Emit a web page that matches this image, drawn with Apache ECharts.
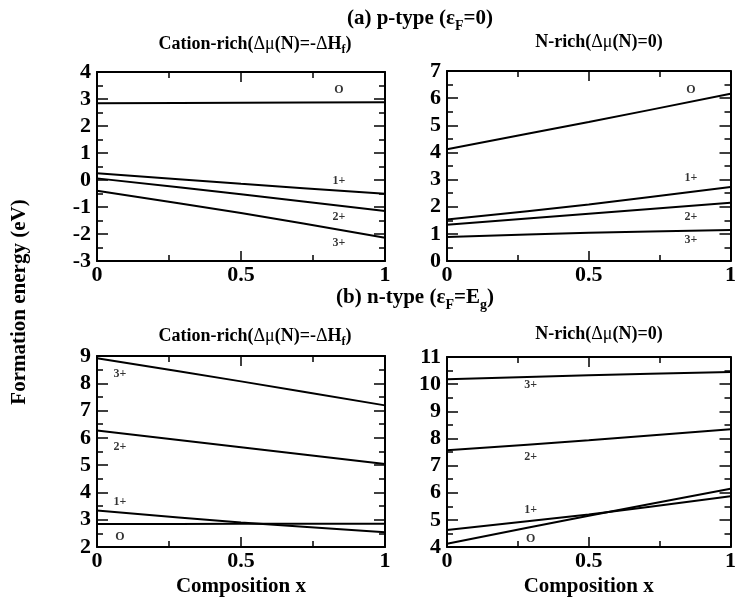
<!DOCTYPE html>
<html>
<head>
<meta charset="utf-8">
<script src="https://cdn.jsdelivr.net/npm/echarts@6/dist/echarts.min.js"></script>
<style>
  html, body { margin: 0; padding: 0; background: #fff; }
  #chart { width: 739px; height: 600px; }
</style>
</head>
<body>
<div id="chart"></div>
<script>
// composition x
var xs = [0, 0.5, 1];
var chargeNames = ['O', '1+', '2+', '3+'];

// (a) p-type, cation-rich
var aO = [2.84, 2.86, 2.88];
var a1 = [0.25, -0.14, -0.51];
var a2 = [0.06, -0.53, -1.15];
var a3 = [-0.40, -1.22, -2.14];
// (a) p-type, N-rich
var bO = [4.12, 5.12, 6.16];
var b1 = [1.53, 2.08, 2.73];
var b2 = [1.34, 1.74, 2.15];
var b3 = [0.88, 1.04, 1.14];
// (b) n-type, cation-rich
var cO = [2.84, 2.85, 2.85];
var c1 = [3.34, 2.90, 2.54];
var c2 = [6.27, 5.66, 5.04];
var c3 = [8.92, 8.07, 7.19];
// (b) n-type, N-rich
var dO = [4.12, 5.15, 6.15];
var d1 = [4.63, 5.20, 5.87];
var d2 = [7.56, 7.93, 8.34];
var d3 = [10.18, 10.33, 10.45];

// y ranges per panel
var yMin = [-3, 0, 2, 4];
var yMax = [4, 7, 9, 11];

// label anchors [x, y] for O, 1+, 2+, 3+
var labA = [[0.84, 3.32], [0.84, -0.05], [0.84, -1.37], [0.84, -2.33]];
var labB = [[0.86, 6.29], [0.86, 3.05], [0.86, 1.62], [0.86, 0.77]];
var labC = [[0.08, 2.37], [0.08, 3.65], [0.08, 5.67], [0.08, 8.33]];
var labD = [[0.295, 4.30], [0.295, 5.35], [0.295, 7.31], [0.295, 9.98]];

var panels = [[aO, a1, a2, a3], [bO, b1, b2, b3], [cO, c1, c2, c3], [dO, d1, d2, d3]];
var labels = [labA, labB, labC, labD];

var FONT = '"Liberation Serif", "DejaVu Serif", serif';

var grids = [
  { left: 97, top: 72, width: 288, height: 189 },
  { left: 447, top: 71, width: 287, height: 190 },
  { left: 97, top: 356, width: 288, height: 191 },
  { left: 447, top: 357, width: 287, height: 190 }
];

function tickCfg(len) {
  return { inside: true, length: len, lineStyle: { color: '#000', width: 1.5 } };
}
function minorCfg() {
  return { show: true, splitNumber: 2, length: 6, lineStyle: { color: '#000', width: 1.5 } };
}

var xAxes = [], yAxes = [], series = [];
for (var i = 0; i < 4; i++) {
  var axisLine = { onZero: false, lineStyle: { color: '#000', width: 2 } };
  xAxes.push({
    type: 'value', gridIndex: i, min: 0, max: 1, interval: 0.5, position: 'bottom',
    axisLine: axisLine, axisTick: tickCfg(10), minorTick: minorCfg(),
    splitLine: { show: false },
    axisLabel: { color: '#000', fontFamily: FONT, fontWeight: 'bold', fontSize: 22, margin: 3 },
    name: i >= 2 ? 'Composition x' : '',
    nameLocation: 'middle', nameGap: 29,
    nameTextStyle: { color: '#000', fontFamily: FONT, fontWeight: 'bold', fontSize: 21 }
  });
  xAxes.push({
    type: 'value', gridIndex: i, min: 0, max: 1, interval: 0.5, position: 'top',
    axisLine: axisLine, axisTick: tickCfg(10), minorTick: minorCfg(),
    splitLine: { show: false },
    axisLabel: { show: false }
  });
  yAxes.push({
    type: 'value', gridIndex: i, min: yMin[i], max: yMax[i], interval: 1, position: 'left',
    axisLine: axisLine, axisTick: tickCfg(11), minorTick: minorCfg(),
    splitLine: { show: false },
    axisLabel: { color: '#000', fontFamily: FONT, fontWeight: 'bold', fontSize: 22, margin: 6 }
  });
  yAxes.push({
    type: 'value', gridIndex: i, min: yMin[i], max: yMax[i], interval: 1, position: 'right',
    axisLine: axisLine, axisTick: tickCfg(11), minorTick: minorCfg(),
    splitLine: { show: false },
    axisLabel: { show: false }
  });

  for (var k = 0; k < 4; k++) {
    var ys = panels[i][k];
    series.push({
      type: 'line', xAxisIndex: 2 * i, yAxisIndex: 2 * i,
      data: xs.map(function (x, j) { return [x, ys[j]]; }),
      symbol: 'none', smooth: 0.3, silent: true,
      lineStyle: { color: '#000', width: 2 }
    });
  }
  series.push({
    type: 'scatter', xAxisIndex: 2 * i, yAxisIndex: 2 * i,
    symbolSize: 0, silent: true,
    data: labels[i].map(function (p, k) { return { value: p, name: chargeNames[k] }; }),
    label: {
      show: true, position: 'inside', formatter: '{b}',
      color: '#000', fontFamily: FONT, fontWeight: 'bold', fontSize: 12
    }
  });
}

var big = { fontFamily: FONT, fontWeight: 'bold', fontSize: 21, color: '#000' };
var sub = { fontFamily: FONT, fontWeight: 'bold', fontSize: 14, color: '#000', verticalAlign: 'bottom', padding: [14, 0, 0, 0] };
var mid = { fontFamily: FONT, fontWeight: 'bold', fontSize: 18, color: '#000' };
var midN = { fontFamily: FONT, fontWeight: 'normal', fontSize: 18, color: '#000' };
var subS = { fontFamily: FONT, fontWeight: 'bold', fontSize: 12, color: '#000', verticalAlign: 'bottom', padding: [11, 0, 0, 0] };

function titleAt(text, x, y, rich) {
  return { text: text, left: x, top: y, textAlign: 'center', textStyle: { rich: rich } };
}

var myChart = echarts.init(document.getElementById('chart'));
var option = {
  animation: false,
  backgroundColor: '#fff',
  title: [
    titleAt('{b|(a) p-type (ε}{s|F}{b|=0)}', 415, 0, { b: big, s: sub }),
    titleAt('{b|Cation-rich}{b|(}{n|Δμ}{b|(N)=-}{n|Δ}{b|H}{s|f}{b|)}', 250, 28, { b: mid, n: midN, s: subS }),
    titleAt('{b|N-rich}{b|(}{n|Δμ}{b|(N)=0)}', 594, 28, { b: mid, n: midN }),
    titleAt('{b|(b) n-type (ε}{s|F}{b|=E}{s|g}{b|)}', 410, 279, { b: big, s: sub }),
    titleAt('{b|Cation-rich}{b|(}{n|Δμ}{b|(N)=-}{n|Δ}{b|H}{s|f}{b|)}', 250, 320, { b: mid, n: midN, s: subS }),
    titleAt('{b|N-rich}{b|(}{n|Δμ}{b|(N)=0)}', 594, 320, { b: mid, n: midN })
  ],
  graphic: [{
    type: 'text', x: 20, y: 302, rotation: Math.PI / 2,
    style: {
      text: 'Formation energy (eV)', fill: '#000',
      font: 'bold 21px "Liberation Serif", serif',
      align: 'center', verticalAlign: 'middle'
    }
  }],
  grid: grids,
  xAxis: xAxes,
  yAxis: yAxes,
  series: series
};

myChart.setOption(option);
</script>
</body>
</html>
